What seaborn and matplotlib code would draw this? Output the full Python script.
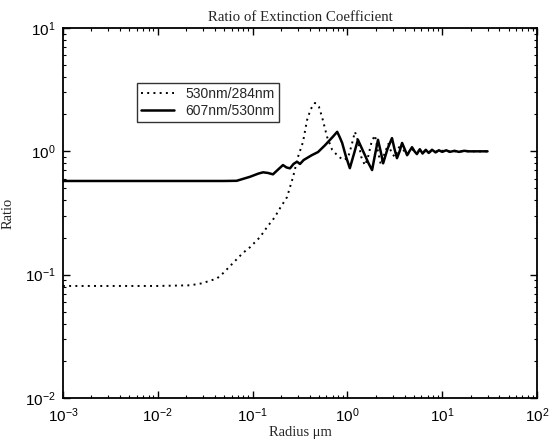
import numpy as np
import pandas as pd
import seaborn as sns
import matplotlib
matplotlib.use('Agg')
import matplotlib.pyplot as plt

# 530nm / 284nm (dotted)
radius_a = [0.001, 0.01, 0.022, 0.029, 0.042, 0.049, 0.062, 0.079, 0.094, 0.12,
            0.142, 0.17, 0.195, 0.231, 0.267, 0.301, 0.34, 0.375, 0.41, 0.455,
            0.50, 0.54, 0.61, 0.69, 0.78, 0.90, 1.01, 1.10, 1.20, 1.30,
            1.40, 1.53, 1.65, 1.80, 1.95, 2.10, 2.25, 2.45, 2.7, 2.95,
            3.2, 3.5, 3.8, 4.2, 4.6, 5.0, 5.5, 6.0, 7.0, 8.0,
            10, 12, 15, 20, 25, 30]
ratio_a = [0.081, 0.081, 0.082, 0.085, 0.093, 0.103, 0.124, 0.150, 0.167, 0.202,
           0.243, 0.29, 0.347, 0.426, 0.619, 0.90, 1.19, 1.79, 2.2, 2.47,
           2.3, 1.90, 1.31, 1.03, 0.93, 0.85, 0.88, 1.1, 1.44, 1.2,
           0.9, 0.77, 0.9, 1.2, 1.35, 1.0, 0.78, 0.95, 1.15, 0.95,
           0.9, 1.08, 1.05, 0.95, 0.97, 1.04, 1.02, 0.98, 1.01, 0.99,
           1.01, 1.0, 1.0, 1.0, 1.0, 1.0]

# 607nm / 530nm (solid)
radius_b = [0.001, 0.01, 0.03, 0.05, 0.068, 0.094, 0.115, 0.129, 0.145, 0.164,
            0.185, 0.209, 0.228, 0.248, 0.27, 0.294, 0.316, 0.345, 0.375, 0.42,
            0.49, 0.58, 0.70, 0.78, 0.83, 0.88, 0.96, 1.06, 1.17, 1.29,
            1.40, 1.53, 1.67, 1.82, 1.96, 2.10, 2.24, 2.38, 2.65, 2.95,
            3.13, 3.33, 3.55, 3.77, 4.0, 4.26, 4.5, 4.8, 5.1, 5.4,
            5.8, 6.2, 6.7, 7.2, 7.8, 8.5, 9.2, 10, 11, 12,
            13.5, 15, 17, 19, 21, 24, 27, 30]
ratio_b = [0.575, 0.575, 0.575, 0.575, 0.577, 0.622, 0.66, 0.676, 0.668, 0.651,
           0.71, 0.774, 0.74, 0.728, 0.79, 0.824, 0.79, 0.85, 0.883, 0.93,
           0.987, 1.12, 1.31, 1.44, 1.30, 1.17, 0.92, 0.73, 0.95, 1.24,
           1.08, 0.93, 0.80, 0.705, 0.95, 1.24, 1.00, 0.80, 1.05, 1.28,
           1.05, 0.88, 1.0, 1.17, 1.05, 0.93, 1.0, 1.08, 1.0, 0.95,
           1.04, 0.96, 1.03, 0.97, 1.03, 0.98, 1.02, 0.99, 1.02, 0.99,
           1.01, 0.99, 1.01, 1.0, 1.0, 1.0, 1.0, 1.0]

LABEL_A = "530nm/284nm"
LABEL_B = "607nm/530nm"

sns.set_theme(style="ticks")
plt.rcParams['font.family'] = ['Liberation Sans', 'DejaVu Sans']
plt.rcParams['xtick.direction'] = 'in'
plt.rcParams['ytick.direction'] = 'in'

fig = plt.figure(figsize=(5.52, 4.41), dpi=100)
ax = fig.add_axes([0.114, 0.0975, 0.859, 0.839])

sns.lineplot(x=radius_a, y=ratio_a, ax=ax, color='black', linewidth=1.4,
             linestyle=(0, (1, 2.2)), label=LABEL_A, sort=False, estimator=None)
sns.lineplot(x=radius_b, y=ratio_b, ax=ax, color='black', linewidth=1.8,
             label=LABEL_B, sort=False, estimator=None)

ax.set_xscale('log')
ax.set_yscale('log')
ax.set_xlim(1e-3, 1e2)
ax.set_ylim(1e-2, 1e1)

for s in ax.spines.values():
    s.set_linewidth(1.3)
    s.set_color('black')
ax.tick_params(which='both', top=True, right=True, direction='in', colors='black',
               labelsize=11)
ax.tick_params(axis='x', which='major', pad=6)
ax.tick_params(axis='y', which='major', pad=5)
ax.tick_params(which='major', length=5, width=1)
ax.tick_params(which='minor', length=2.5, width=0.8)

ax.set_title("Ratio of Extinction Coefficient", family='Liberation Serif',
             fontsize=10.7, pad=5)
ax.set_xlabel("Radius μm", family='Liberation Serif', fontsize=10.5, labelpad=1)
ax.set_ylabel("Ratio", family='Liberation Serif', fontsize=10.5, labelpad=8)

leg = ax.legend(loc='upper left', bbox_to_anchor=(0.156, 0.851), fontsize=10,
                frameon=True, fancybox=False, handlelength=2.4,
                borderpad=0.3, labelspacing=0.2, handletextpad=0.8, borderaxespad=0)
leg.get_frame().set_edgecolor('black')
leg.get_frame().set_linewidth(1.0)

plt.savefig("out.png", dpi=100)
